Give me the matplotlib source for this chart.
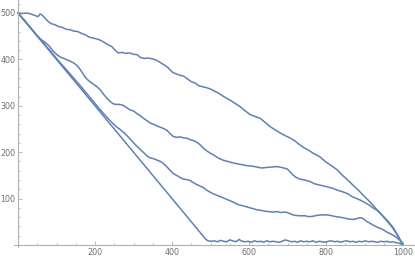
import matplotlib
matplotlib.use("Agg")
import matplotlib.pyplot as plt
from matplotlib.ticker import FixedLocator

# --- data ---
# line A (top curve)
xa = [0, 12, 24, 36, 46, 52, 57, 62, 70, 78, 86, 95, 105, 115, 125, 135, 145, 155,
      165, 175, 185, 195, 205, 215, 225, 235, 243, 252, 260, 270, 280, 290, 300,
      310, 318, 328, 338, 350, 360, 370, 380, 390, 400, 410, 420, 430, 440, 450,
      460, 470, 480, 490, 500, 512, 525, 538, 551, 564, 577, 590, 603, 616, 629,
      642, 655, 668, 680, 693, 706, 718, 730, 742, 755, 768, 784, 798, 812, 829,
      843, 856, 870, 884, 898, 914, 928, 943, 958, 972, 986, 1000]
ya = [500, 499, 500, 497, 494, 492, 498, 496, 489, 482, 477, 475, 471, 469, 465, 464, 461, 460,
      456, 453, 448, 446, 444, 441, 436, 431, 428, 420, 414, 415, 413, 414, 411,
      410, 404, 402, 403, 401, 398, 393, 388, 382, 373, 369, 366, 364, 358, 352,
      349, 343, 341, 339, 336, 331, 325, 318, 312, 305, 298, 289, 281, 277, 273,
      264, 255, 248, 242, 236, 231, 225, 217, 210, 204, 197, 190, 180, 172, 162,
      150, 140, 129, 118, 106, 93, 80, 66, 52, 38, 20, 0]

# line B (second curve)
xb = [0, 15, 30, 45, 58, 70, 80, 90, 101, 112, 120, 127, 136, 145, 153, 160, 168,
      176, 185, 195, 205, 215, 223, 231, 240, 248, 256, 264, 273, 282, 291, 300,
      309, 317, 326, 335, 343, 352, 360, 369, 378, 387, 395, 403, 412, 421, 430,
      439, 447, 456, 465, 473, 481, 490, 499, 510, 521, 532, 545, 558, 570, 582,
      595, 608, 620, 632, 645, 658, 670, 680, 690, 699, 706, 714, 722, 732, 745,
      758, 770, 784, 800, 818, 830, 842, 855, 868, 880, 888, 900, 912, 922, 932,
      945, 960, 974, 987, 1000]
yb = [500, 486, 471, 455, 444, 437, 430, 419, 410, 404, 402, 399, 396, 392, 387, 380, 370,
      360, 353, 347, 341, 333, 324, 316, 309, 304, 303, 303, 301, 296, 291, 289,
      283, 279, 273, 268, 263, 260, 257, 254, 251, 247, 240, 234, 232, 233, 231,
      230, 227, 225, 221, 216, 209, 203, 198, 193, 187, 183, 180, 177, 175, 173,
      171, 170, 168, 166, 167, 168, 169, 168, 166, 164, 158, 151, 146, 142, 140,
      137, 132, 129, 126, 122, 118, 115, 111, 104, 100, 97, 92, 86, 80, 75,
      65, 52, 38, 20, 0]

# line C (third curve)
xc = [0, 20, 40, 60, 80, 100, 120, 140, 160, 180, 200, 215, 230, 245, 255, 265, 275,
      285, 295, 305, 315, 325, 335, 343, 352, 361, 370, 377, 385, 395, 403, 412,
      420, 429, 438, 447, 456, 465, 473, 481, 490, 499, 508, 517, 526, 535, 543,
      552, 560, 569, 577, 586, 595, 603, 612, 620, 629, 640, 651, 662, 672, 682,
      692, 699, 708, 718, 732, 745, 756, 766, 778, 790, 803, 815, 826, 836, 848,
      858, 870, 880, 888, 896, 905, 914, 922, 934, 946, 958, 970, 982, 992, 1000]
yc = [500, 480, 461, 441, 422, 402, 383, 364, 345, 325, 305, 290, 276, 263, 255, 249, 242,
      234, 225, 216, 208, 200, 192, 188, 186, 183, 180, 176, 170, 161, 154, 150,
      146, 142, 141, 139, 134, 130, 127, 124, 118, 114, 110, 107, 104, 101, 98,
      95, 92, 88, 86, 84, 82, 80, 78, 76, 75, 73, 72, 71, 72, 70,
      71, 70, 67, 64, 63, 63, 61, 62, 64, 65, 65, 63, 61, 60, 58,
      56, 55, 57, 59, 57, 51, 47, 43, 38, 34, 28, 23, 17, 10, 0]

# line D (straight drop, then flat near zero)
xd = [0, 482, 488, 494, 502, 510, 518, 526, 534, 542, 550, 558, 566, 574, 582, 590,
      598, 606, 614, 622, 630, 638, 646, 654, 662, 670, 678, 686, 694, 702, 710,
      718, 726, 734, 742, 750, 758, 766, 774, 782, 790, 798, 806, 814, 822, 830,
      838, 846, 854, 862, 870, 878, 886, 894, 902, 910, 918, 926, 934, 942, 950,
      958, 966, 974, 982, 990, 1000]
yd = [500, 18, 12, 9, 8, 9, 7, 10, 8, 7, 11, 9, 7, 12, 8, 7,
      8, 6, 9, 7, 8, 6, 9, 7, 8, 7, 6, 8, 11, 9, 7,
      8, 6, 9, 7, 8, 7, 9, 6, 8, 7, 6, 8, 9, 7, 8,
      6, 8, 9, 7, 8, 6, 8, 7, 9, 7, 8, 7, 6, 8, 7,
      8, 6, 7, 5, 4, 0]

xticks_major = [200, 400, 600, 800, 1000]
xticks_minor = [50, 100, 150, 250, 300, 350, 450, 500, 550, 650, 700, 750, 850, 900, 950]
yticks_major = [100, 200, 300, 400, 500]
yticks_minor = [20, 40, 60, 80, 120, 140, 160, 180, 220, 240, 260, 280,
                320, 340, 360, 380, 420, 440, 460, 480, 520]

line_color = "#5E81B5"
axis_color = "#B0B0B0"
label_color = "#707070"

fig = plt.figure(figsize=(4.15, 2.6), dpi=100)
ax = fig.add_axes([0, 0, 1, 1])

for xs, ys in [(xa, ya), (xb, yb), (xc, yc), (xd, yd)]:
    ax.plot(xs, ys, color=line_color, lw=1.1, solid_joinstyle="round")

ax.set_xlim(-46.8, 1031)
ax.set_ylim(-32.3, 528)

# Mathematica style axes crossing at the origin
for s in ["top", "right"]:
    ax.spines[s].set_visible(False)
ax.spines["left"].set_position(("data", 0))
ax.spines["bottom"].set_position(("data", 0))
ax.spines["left"].set_bounds(-4, 528)
ax.spines["bottom"].set_bounds(-10, 1031)
for s in ["left", "bottom"]:
    ax.spines[s].set_color(axis_color)
    ax.spines[s].set_linewidth(0.8)

ax.xaxis.set_major_locator(FixedLocator(xticks_major))
ax.xaxis.set_minor_locator(FixedLocator(xticks_minor))
ax.yaxis.set_major_locator(FixedLocator(yticks_major))
ax.yaxis.set_minor_locator(FixedLocator(yticks_minor))

ax.tick_params(which="both", direction="in", color=axis_color, width=0.6,
               labelsize=5.8, labelcolor=label_color, pad=2)
ax.tick_params(which="major", length=3)
ax.tick_params(which="minor", length=1.6)

fig.savefig("out.png", dpi=100)
